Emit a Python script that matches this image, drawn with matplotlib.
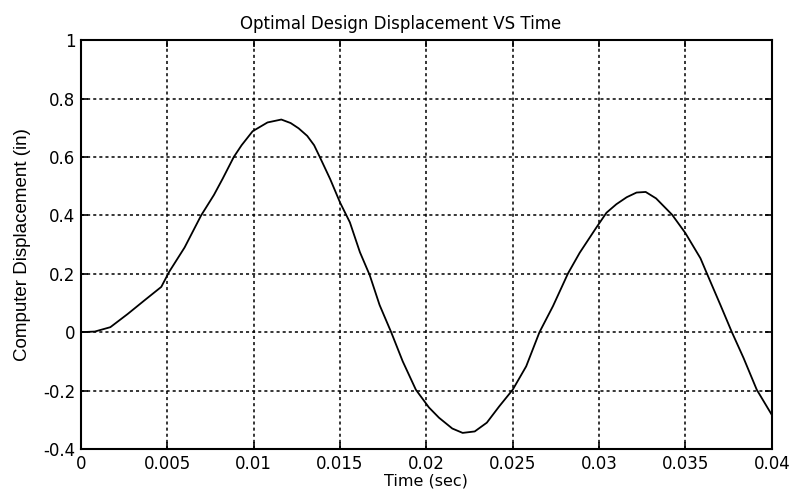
import numpy as np
import matplotlib
matplotlib.use("Agg")
import matplotlib.pyplot as plt

# time (sec) and displacement (in)
time_sec = [0, 0.0008, 0.0017, 0.0027, 0.0037, 0.00465, 0.0051, 0.006, 0.00696,
            0.0077, 0.0082, 0.00885, 0.0093, 0.00994, 0.0108, 0.0116, 0.01214,
            0.0126, 0.0131, 0.0135, 0.01385, 0.01443, 0.015, 0.01557, 0.01615,
            0.01672, 0.01729, 0.01796, 0.01863, 0.01939, 0.02015, 0.02073, 0.0215,
            0.0221, 0.0228, 0.0235, 0.02422, 0.025, 0.02578, 0.02655, 0.02733,
            0.0282, 0.02888, 0.02984, 0.03043, 0.031, 0.0316, 0.03217, 0.0327,
            0.0333, 0.03423, 0.035, 0.03587, 0.03625, 0.03702, 0.03769, 0.03837,
            0.03913, 0.04]
displacement = [0, 0.002, 0.017, 0.062, 0.11, 0.155, 0.206, 0.29, 0.40,
                0.47, 0.525, 0.60, 0.64, 0.688, 0.718, 0.728, 0.716,
                0.698, 0.672, 0.64, 0.597, 0.524, 0.444, 0.376, 0.274,
                0.195, 0.093, 0.0, -0.10, -0.197, -0.258, -0.293, -0.33,
                -0.345, -0.34, -0.31, -0.254, -0.197, -0.117, 0.0, 0.089,
                0.201, 0.272, 0.358, 0.409, 0.438, 0.462, 0.478, 0.48,
                0.458, 0.402, 0.339, 0.253, 0.20, 0.094, 0.0, -0.089,
                -0.197, -0.283]

xticks = [0, 0.005, 0.01, 0.015, 0.02, 0.025, 0.03, 0.035, 0.04]
xtick_labels = ['0', '0.005', '0.01', '0.015', '0.02', '0.025', '0.03', '0.035', '0.04']
yticks = [-0.4, -0.2, 0, 0.2, 0.4, 0.6, 0.8, 1]
ytick_labels = ['-0.4', '-0.2', '0', '0.2', '0.4', '0.6', '0.8', '1']

plt.rcParams['font.family'] = ['DejaVu Sans']

fig = plt.figure(figsize=(7.94, 4.95), dpi=100)
ax = fig.add_axes([0.102, 0.093, 0.870, 0.826])

ax.plot(time_sec, displacement, color='black', linewidth=1.3)

ax.set_xlim(0, 0.04)
ax.set_ylim(-0.4, 1)
ax.set_xticks(xticks)
ax.set_xticklabels(xtick_labels)
ax.set_yticks(yticks)
ax.set_yticklabels(ytick_labels)
ax.tick_params(direction='in', length=5, width=1.2, top=True, right=True,
               labelsize=12, pad=4)
ax.grid(True, color='black', linestyle=(0, (2, 2)), linewidth=1.1)

for sp in ax.spines.values():
    sp.set_linewidth(1.5)

ax.set_title('Optimal Design Displacement VS Time', fontsize=12, pad=8, x=0.462)
ax.set_xlabel('Time (sec)', fontsize=11.5, labelpad=1)
ax.set_ylabel('Computer Displacement (in)', fontsize=13.5, labelpad=9,
              family=['Liberation Sans', 'DejaVu Sans'])

fig.savefig('out.png', dpi=100)
